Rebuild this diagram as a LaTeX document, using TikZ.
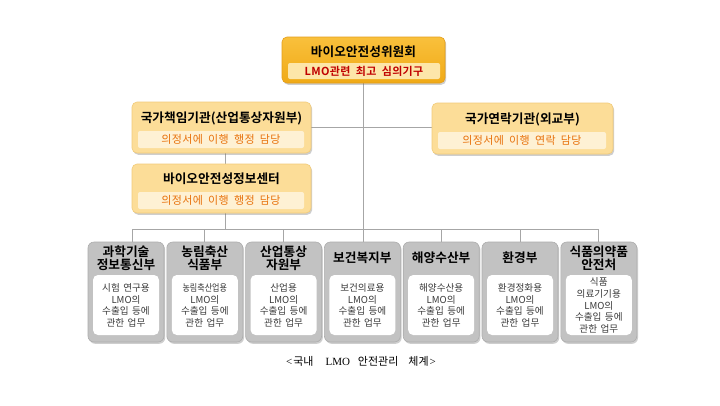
\documentclass[tikz,border=0pt]{standalone}
\usepackage{fontspec}
\newfontfamily\kr[BoldFont={Noto Sans CJK KR Bold}]{Noto Sans CJK KR}
\newfontfamily\krw[WordSpace=1.6,BoldFont={Noto Sans CJK KR Bold}]{Noto Sans CJK KR}
\newfontfamily\krsp[LetterSpace=3,WordSpace=1.9,BoldFont={Noto Sans CJK KR Bold}]{Noto Sans CJK KR}
\newfontfamily\capser{Liberation Serif}
\usetikzlibrary{shadows,backgrounds}
\definecolor{topfillA}{HTML}{F9C03C}
\definecolor{topfillB}{HTML}{F0AA16}
\definecolor{topline}{HTML}{E49E1A}
\definecolor{topinner}{HTML}{FDE6A9}
\definecolor{topsub}{HTML}{C00000}
\definecolor{midfill}{HTML}{FCDD98}
\definecolor{midline}{HTML}{F1CB7A}
\definecolor{midinner}{HTML}{FEF1D4}
\definecolor{midsub}{HTML}{E8720C}
\definecolor{grayfill}{HTML}{C2C2C2}
\definecolor{grayline}{HTML}{ACACAC}
\definecolor{conn}{HTML}{A6A6A6}
\definecolor{bodytext}{HTML}{3A3A3A}
\tikzset{
  shad/.style={drop shadow={shadow xshift=1.2pt,shadow yshift=-1.8pt,opacity=0.35,fill=black!55}},
  topbox/.style={rounded corners=5pt,top color=topfillA,bottom color=topfillB,draw=topline,line width=0.6pt,shad,inner sep=0pt},
  topin/.style={rounded corners=2pt,fill=topinner,inner sep=0pt,text=topsub,font=\krsp\bfseries\fontsize{11pt}{13pt}\selectfont},
  midbox/.style={rounded corners=5pt,fill=midfill,draw=midline,line width=0.6pt,shad,inner sep=0pt},
  midin/.style={rounded corners=2pt,fill=midinner,inner sep=0pt,text=midsub,font=\krsp\fontsize{11pt}{13pt}\selectfont},
  ttl/.style={inner sep=0pt,align=center,font=\kr\bfseries\fontsize{12.7pt}{13.5pt}\selectfont},
  graybox/.style={rounded corners=6pt,fill=grayfill,draw=grayline,line width=0.6pt,shad,inner sep=0pt,minimum width=76pt,minimum height=100pt},
  grayin/.style={rounded corners=5pt,fill=white,inner sep=0pt,minimum width=66pt,minimum height=60pt},
  body/.style={inner sep=0pt,align=center,text=bodytext,font=\krw\fontsize{9.6pt}{11.6pt}\selectfont},
  link/.style={draw=conn,line width=0.9pt}
}
\begin{document}
\begin{tikzpicture}[x=1pt,y=-1pt]
\useasboundingbox (0,0) rectangle (720,405);

% top box
\node[topbox,minimum width=163pt,minimum height=46pt] (top) at (363.5,60) {};
\node[ttl] (topt) at (363.5,52) {바이오안전성위원회};
\node[topin,minimum width=152pt,minimum height=16pt] (topi) at (364,71) {LMO관련 최고 심의기구};

% national responsible agency
\node[midbox,minimum width=179pt,minimum height=51pt] (nra) at (221.5,127.5) {};
\node[ttl] (nrat) at (221.5,118.5) {국가책임기관(산업통상자원부)};
\node[midin,minimum width=166pt,minimum height=17pt] (nrai) at (221,139.5) {의정서에 이행 행정 담당};

% national contact
\node[midbox,minimum width=181pt,minimum height=51pt] (ncp) at (522.5,128.5) {};
\node[ttl] (ncpt) at (522.5,119.5) {국가연락기관(외교부)};
\node[midin,minimum width=168pt,minimum height=17pt] (ncpi) at (522,140.5) {의정서에 이행 연락 담당};

% biosafety clearing house
\node[midbox,minimum width=179pt,minimum height=49pt] (bch) at (221.5,188.5) {};
\node[ttl] (bcht) at (221.5,179) {바이오안전성정보센터};
\node[midin,minimum width=166pt,minimum height=17pt] (bchi) at (221,200.5) {의정서에 이행 행정 담당};

% ministries
\foreach \i/\t/\c in {
  1/{과학기술\\정보통신부}/{시험 연구용\\LMO의\\수출입 등에\\관한 업무},
  2/{농림축산\\식품부}/{\scalebox{0.84}[1]{농림축산업용}\\LMO의\\수출입 등에\\관한 업무},
  3/{산업통상\\자원부}/{산업용\\LMO의\\수출입 등에\\관한 업무},
  4/{보건복지부}/{보건의료용\\LMO의\\수출입 등에\\관한 업무},
  5/{해양수산부}/{해양수산용\\LMO의\\수출입 등에\\관한 업무},
  6/{환경부}/{환경정화용\\LMO의\\수출입 등에\\관한 업무},
  7/{식품의약품\\안전처}/{식품\\의료기기용\\LMO의\\수출입 등에\\관한 업무}}{
  \pgfmathsetmacro\cx{126+78.8*(\i-1)}
  \node[graybox] (b\i) at (\cx,292) {};
  \node[grayin] (b\i-in) at (\cx,305) {};
  \node[ttl] (b\i-t) at (\cx,258) {\t};
  \node[body] (b\i-c) at (\cx,305.5) {\c};
}

\coordinate (bus) at (0,229);

\begin{scope}[on background layer]
  \fill[white] (0,0) rectangle (720,405);
  \draw[link] (top.south) -- (top.south |- b4.north);
  \draw[link] (nra.east) -- (nra.east -| ncp.west);
  \draw[link] ([xshift=4pt]nra.south) -- ([xshift=4pt]nra.south |- bch.north);
  \draw[link] ([xshift=4pt]bch.south) -- ([xshift=4pt]bch.south |- bus);
  \draw[link] ([xshift=6pt]b1.north |- bus) -- (b7.north |- bus);
  \draw[link] ([xshift=6pt]b1.north |- bus) -- ([xshift=6pt]b1.north);
  \foreach \i in {2,3,5,6,7}{
    \draw[link] (b\i.north |- bus) -- (b\i.north);
  }
\end{scope}

% caption
\node[inner sep=0pt] (cap) at (361,361)
  {{\capser\fontsize{11pt}{13pt}\selectfont <}\hspace{1pt}{\kr\fontsize{11pt}{13pt}\selectfont 국내}\hspace{12pt}{\capser\fontsize{11pt}{13pt}\selectfont LMO}\hspace{8pt}{\kr\fontsize{11pt}{13pt}\selectfont 안전관리}\hspace{10pt}{\kr\fontsize{11pt}{13pt}\selectfont 체계}\hspace{1pt}{\capser\fontsize{11pt}{13pt}\selectfont >}};
\end{tikzpicture}
\end{document}
